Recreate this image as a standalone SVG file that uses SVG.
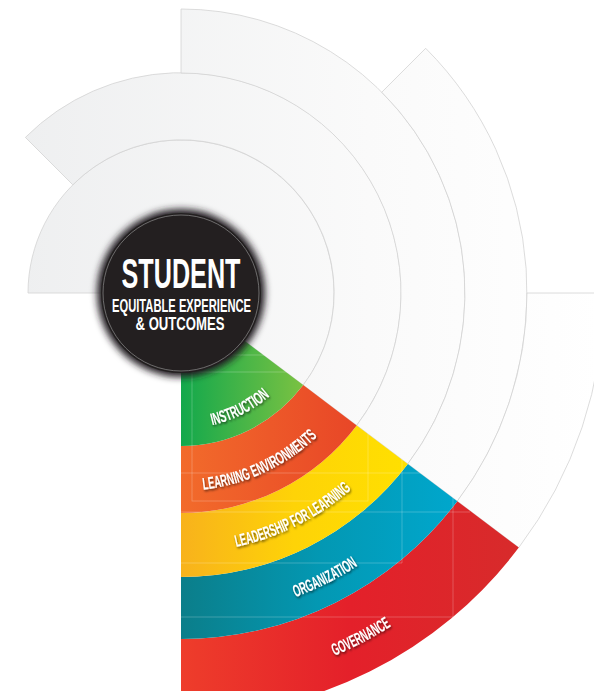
<svg xmlns="http://www.w3.org/2000/svg" width="594" height="691" viewBox="0 0 594 691">
  <defs>
    <linearGradient id="grayFill" gradientUnits="userSpaceOnUse" x1="20" y1="0" x2="600" y2="0">
      <stop offset="0" stop-color="#eeeff0"/>
      <stop offset="0.6" stop-color="#fafafa"/>
      <stop offset="1" stop-color="#ffffff"/>
    </linearGradient>
    <linearGradient id="gInstr" gradientUnits="userSpaceOnUse" x1="181" y1="0" x2="305" y2="0">
      <stop offset="0" stop-color="#12a84c"/>
      <stop offset="1" stop-color="#7cc242"/>
    </linearGradient>
    <linearGradient id="gLearn" gradientUnits="userSpaceOnUse" x1="181" y1="0" x2="358" y2="0">
      <stop offset="0" stop-color="#f26b2b"/>
      <stop offset="1" stop-color="#e84627"/>
    </linearGradient>
    <linearGradient id="gLead" gradientUnits="userSpaceOnUse" x1="181" y1="0" x2="408" y2="0">
      <stop offset="0" stop-color="#f8b21c"/>
      <stop offset="0.5" stop-color="#fed307"/>
      <stop offset="1" stop-color="#ffe000"/>
    </linearGradient>
    <linearGradient id="gOrg" gradientUnits="userSpaceOnUse" x1="181" y1="0" x2="458" y2="0">
      <stop offset="0" stop-color="#0b7e8a"/>
      <stop offset="0.5" stop-color="#0398b3"/>
      <stop offset="1" stop-color="#00a7cd"/>
    </linearGradient>
    <linearGradient id="gGov" gradientUnits="userSpaceOnUse" x1="181" y1="0" x2="520" y2="0">
      <stop offset="0" stop-color="#ee3d2b"/>
      <stop offset="0.5" stop-color="#e4202a"/>
      <stop offset="1" stop-color="#d72b2b"/>
    </linearGradient>
    <filter id="glow" x="-30%" y="-30%" width="160%" height="160%">
      <feGaussianBlur stdDeviation="3.5"/>
    </filter>
    <filter id="shadow" x="-20%" y="-50%" width="140%" height="200%">
      <feDropShadow dx="1" dy="1.5" stdDeviation="1" flood-color="#000" flood-opacity="0.6"/>
    </filter>
    <path id="arcInstr" d="M 173.9 428.8 A 136 136 0 0 0 295.1 367.1"/>
    <path id="arcLearn" d="M 163.7 490.2 A 198 198 0 0 0 343.2 406.6"/>
    <path id="arcLead" d="M 165.6 552.5 A 260 260 0 0 0 398.0 436.1"/>
    <path id="arcOrg" d="M 162.9 617.5 A 325 325 0 0 0 453.0 471.0"/>
    <path id="arcGov" d="M 164.5 686.6 A 394 394 0 0 0 513.7 504.1"/>
  </defs>
  <style>
    .ring { fill: url(#grayFill); stroke: #d3d3d3; stroke-width: 0.8; }
    .guide { fill: none; stroke: #ffffff; stroke-opacity: 0.28; stroke-width: 0.8; }
    .label { font-family: "Liberation Sans", Arial, sans-serif; font-weight: bold; font-size: 17px; fill: #ffffff; text-anchor: middle; }
    .title { font-family: "Liberation Sans", Arial, sans-serif; font-weight: bold; fill: #ffffff; text-anchor: middle; }
  </style>
  <rect width="594" height="691" fill="#ffffff"/>

  <!-- gray ring extensions -->
  <g id="rings">
    <path class="ring" d="M 28 293 A 153 153 0 1 1 303.2 385.1 L 236.9 335.1 A 70 70 0 1 0 111 293 Z"/>
    <path class="ring" d="M 25.4 137.4 A 220 220 0 0 1 356.7 425.4 L 303.2 385.1 A 153 153 0 0 0 72.8 184.8 Z"/>
    <path class="ring" d="M 181 9 A 284 284 0 0 1 407.8 463.9 L 356.7 425.4 A 220 220 0 0 0 181 73 Z"/>
    <path class="ring" d="M 425.7 48.3 A 346 346 0 0 1 457.3 501.2 L 407.8 463.9 A 284 284 0 0 0 381.8 92.2 Z"/>
    <path class="ring" d="M 604 293 A 423 423 0 0 1 518.8 547.6 L 457.3 501.2 A 346 346 0 0 0 527 293 Z"/>
  </g>

  <!-- colored bands -->
  <g id="governance">
    <path fill="url(#gGov)" d="M 518.8 547.6 A 423 423 0 0 1 181 716 L 181 639 A 346 346 0 0 0 457.3 501.2 Z"/>
    <text class="label" filter="url(#shadow)"><textPath href="#arcGov" startOffset="50%" textLength="64" lengthAdjust="spacingAndGlyphs">GOVERNANCE</textPath></text>
  </g>
  <g id="organization">
    <path fill="url(#gOrg)" d="M 457.3 501.2 A 346 346 0 0 1 181 639 L 181 577 A 284 284 0 0 0 407.8 463.9 Z"/>
    <text class="label" filter="url(#shadow)"><textPath href="#arcOrg" startOffset="50%" textLength="70" lengthAdjust="spacingAndGlyphs">ORGANIZATION</textPath></text>
  </g>
  <g id="leadership">
    <path fill="url(#gLead)" d="M 407.8 463.9 A 284 284 0 0 1 181 577 L 181 513 A 220 220 0 0 0 356.7 425.4 Z"/>
    <text class="label" filter="url(#shadow)"><textPath href="#arcLead" startOffset="50%" textLength="130" lengthAdjust="spacingAndGlyphs">LEADERSHIP FOR LEARNING</textPath></text>
  </g>
  <g id="learning-environments">
    <path fill="url(#gLearn)" d="M 356.7 425.4 A 220 220 0 0 1 181 513 L 181 446 A 153 153 0 0 0 303.2 385.1 Z"/>
    <text class="label" filter="url(#shadow)"><textPath href="#arcLearn" startOffset="50%" textLength="128" lengthAdjust="spacingAndGlyphs">LEARNING ENVIRONMENTS</textPath></text>
  </g>
  <g id="instruction">
    <path fill="url(#gInstr)" d="M 303.2 385.1 A 153 153 0 0 1 181 446 L 181 353 A 60 60 0 0 0 228.9 329.1 Z"/>
    <text class="label" filter="url(#shadow)"><textPath href="#arcInstr" startOffset="50%" textLength="65" lengthAdjust="spacingAndGlyphs">INSTRUCTION</textPath></text>
  </g>

  <!-- faint layout guide lines -->
  <g id="guides">
    <polyline class="guide" points="178,473 178,355 305,355"/>
    <rect class="guide" x="192" y="372" width="176" height="129"/>
    <polyline class="guide" points="173,512 470,512"/>
    <polyline class="guide" points="402,440 402,563 173,563"/>
    <polyline class="guide" points="178,473 470,473"/>
    <polyline class="guide" points="453,473 453,617 181,617"/>
  </g>

  <!-- centre disc -->
  <g id="student">
    <circle cx="181" cy="293" r="84" fill="#231f20" filter="url(#glow)"/>
    <circle cx="181" cy="293" r="80" fill="#231f20"/>
    <circle cx="181" cy="293" r="78" fill="none" stroke="#8c8c8c" stroke-width="0.7"/>
    <text class="title" x="181" y="288" font-size="42" textLength="119" lengthAdjust="spacingAndGlyphs">STUDENT</text>
    <text class="title" x="181.5" y="311.5" font-size="18.5" textLength="139" lengthAdjust="spacingAndGlyphs">EQUITABLE EXPERIENCE</text>
    <text class="title" x="180" y="330" font-size="18" textLength="89" lengthAdjust="spacingAndGlyphs">&amp; OUTCOMES</text>
  </g>
</svg>
